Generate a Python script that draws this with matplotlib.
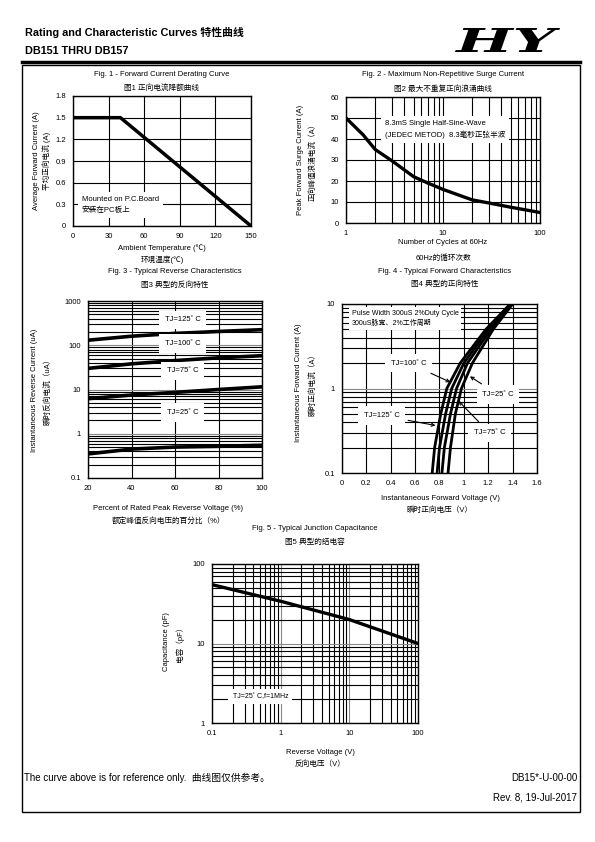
import numpy as np
import matplotlib
matplotlib.use('Agg')
import matplotlib.pyplot as plt
from matplotlib.patches import Rectangle, PathPatch
from matplotlib.lines import Line2D
from matplotlib.ticker import NullFormatter
from matplotlib.textpath import TextPath
from matplotlib.font_manager import FontProperties
from matplotlib.transforms import Affine2D

plt.rcParams['font.family'] = ['Liberation Sans', 'Noto Sans CJK SC', 'DejaVu Sans']

# Fig. 1 - derating
temp = [0, 40, 150]
i_avg = [1.5, 1.5, 0.0]

# Fig. 2 - surge current
cycles = [1, 1.5, 2, 3, 5, 7, 10, 20, 30, 50, 70, 100]
i_surge = [50, 42, 35, 29.5, 22, 19, 16, 11, 9.5, 7.5, 6.3, 5]

# Fig. 3 - reverse characteristics
pct = [20, 40, 60, 80, 100]
ir_125 = [130, 160, 185, 205, 225]
ir_100 = [30, 38, 45, 52, 58]
ir_75 = [6.2, 7.5, 8.6, 10, 11.5]
ir_25 = [0.35, 0.45, 0.5, 0.52, 0.55]

# Fig. 4 - forward characteristics
i_f = [0.1, 0.2, 0.5, 1, 2, 5, 10]
vf_125 = [0.74, 0.76, 0.81, 0.86, 0.97, 1.18, 1.38]
vf_100 = [0.78, 0.80, 0.85, 0.90, 1.00, 1.20, 1.39]
vf_75 = [0.82, 0.84, 0.89, 0.94, 1.03, 1.22, 1.39]
vf_25 = [0.87, 0.89, 0.93, 0.98, 1.07, 1.24, 1.40]

# Fig. 5 - junction capacitance
vr = [0.1, 1, 10, 100]
cap = [55, 34, 20, 10]

W, H = 595, 842
fig = plt.figure(figsize=(W / 100, H / 100), dpi=100)
FS = 5.5


def ax_px(x0, y0, x1, y1):
    return fig.add_axes([x0 / W, 1 - y1 / H, (x1 - x0) / W, (y1 - y0) / H])


def txt(x, y, s, **kw):
    kw.setdefault('fontsize', FS)
    kw.setdefault('va', 'center')
    fig.text(x / W, 1 - y / H, s, **kw)


def style(ax):
    ax.tick_params(which='both', length=0, labelsize=FS, pad=5)
    for sp in ax.spines.values():
        sp.set_linewidth(1.0)


# header
txt(25, 32, 'Rating and Characteristic Curves 特性曲线', fontsize=7.8, fontweight='bold')
txt(25, 51, 'DB151 THRU DB157', fontsize=7.8, fontweight='bold')

# logo, stretched into its box (455..560 x 28..52 px)
logo = TextPath((0, 0), 'HY', size=10,
                prop=FontProperties(family='DejaVu Serif', weight='heavy', style='italic'))
ext = logo.get_extents()
lx0, lx1, ly0, ly1 = 455, 560, 28, 52
tr = (Affine2D().translate(-ext.x0, -ext.y0)
      .scale((lx1 - lx0) / W / ext.width, (ly1 - ly0) / H / ext.height)
      .translate(lx0 / W, 1 - ly1 / H))
fig.add_artist(PathPatch(tr.transform_path(logo), facecolor='black', edgecolor='none',
                         transform=fig.transFigure))

fig.add_artist(Line2D([22 / W, 580 / W], [1 - 62 / H, 1 - 62 / H], color='black', lw=2.5))
fig.add_artist(Rectangle((22 / W, 1 - 812 / H), 558 / W, 747 / H, fill=False,
                         edgecolor='black', lw=1.0))

# ---- Fig 1
ax1 = ax_px(73, 96, 251, 226)
style(ax1)
ax1.plot(temp, i_avg, color='black', lw=2.5, solid_capstyle='butt')
ax1.set_xlim(0, 150)
ax1.set_ylim(0, 1.8)
ax1.set_xticks([0, 30, 60, 90, 120, 150])
ax1.set_yticks([0, 0.3, 0.6, 0.9, 1.2, 1.5, 1.8])
ax1.set_yticklabels(['0', '0.3', '0.6', '0.9', '1.2', '1.5', '1.8'])
ax1.grid(True, color='black', lw=0.8)
ax1.text(0.05, 0.16, 'Mounted on P.C.Board\n安装在PC板上', transform=ax1.transAxes,
         fontsize=FS, va='center', linespacing=1.5, bbox=dict(facecolor='white', edgecolor='none', pad=3))
txt(162, 75, 'Fig. 1 - Forward Current Derating Curve', ha='center')
txt(162, 88, '图1 正向电流降额曲线', ha='center')
txt(162, 248, 'Ambient Temperature (℃)', ha='center')
txt(162, 260, '环境温度(℃)', ha='center')
txt(36, 161, 'Average Forward Current (A)', ha='center', rotation=90)
txt(47, 161, '平均正向电流 (A)', ha='center', rotation=90)

# ---- Fig 2
ax2 = ax_px(346, 97, 540, 223)
style(ax2)
ax2.set_xscale('log')
ax2.plot(cycles, i_surge, color='black', lw=2.4)
ax2.set_xlim(1, 100)
ax2.set_ylim(0, 60)
ax2.set_xticks([1, 10, 100])
ax2.set_xticklabels(['1', '10', '100'])
ax2.xaxis.set_minor_formatter(NullFormatter())
ax2.set_yticks(range(0, 61, 10))
ax2.grid(True, which='both', color='black', lw=0.8)
ax2.text(0.2, 0.745, '8.3mS Single Half-Sine-Wave\n(JEDEC METOD)  8.3毫秒正弦半波',
         transform=ax2.transAxes, fontsize=FS, va='center', linespacing=1.5,
         bbox=dict(facecolor='white', edgecolor='none', pad=3))
txt(443, 75, 'Fig. 2 - Maximum Non-Repetitive Surge Current', ha='center')
txt(443, 89, '图2 最大不重复正向浪涌曲线', ha='center')
txt(443, 243, 'Number of Cycles at 60Hz', ha='center')
txt(443, 258, '60Hz的循环次数', ha='center')
txt(300, 160, 'Peak Forward Surge Current (A)', ha='center', rotation=90)
txt(313, 160, '正向峰值浪涌电流（A）', ha='center', rotation=90)

# ---- Fig 3
ax3 = ax_px(88, 301, 262, 478)
style(ax3)
ax3.set_yscale('log')
for ys in (ir_125, ir_100, ir_75, ir_25):
    ax3.plot(pct, ys, color='black', lw=2.6)
ax3.set_xlim(20, 100)
ax3.set_ylim(0.1, 1000)
ax3.set_xticks([20, 40, 60, 80, 100])
ax3.set_yticks([0.1, 1, 10, 100, 1000])
ax3.set_yticklabels(['0.1', '1', '10', '100', '1000'])
ax3.yaxis.set_minor_formatter(NullFormatter())
ax3.grid(True, axis='x', color='black', lw=0.8)
ax3.grid(True, axis='y', which='minor', color='black', lw=0.8)
ax3.grid(True, axis='y', which='major', color='#888888', lw=0.8)
for yf, lab in [(0.895, 'TJ=125˚ C'), (0.76, 'TJ=100˚ C'), (0.605, 'TJ=75˚ C'), (0.37, 'TJ=25˚ C')]:
    ax3.text(0.545, yf, lab, transform=ax3.transAxes, fontsize=FS, ha='center', va='center',
             bbox=dict(facecolor='white', edgecolor='none', pad=4))
txt(175, 271, 'Fig. 3 - Typical Reverse Characteristics', ha='center')
txt(175, 285, '图3 典型的反向特性', ha='center')
txt(168, 509, 'Percent of Rated Peak Reverse Voltage (%)', ha='center')
txt(168, 521, '额定峰值反向电压的百分比（%）', ha='center')
txt(35, 390, 'Instantaneous Reverse Current (uA)', ha='center', rotation=90)
txt(47, 390, '瞬时反向电流（uA）', ha='center', rotation=90)

# ---- Fig 4
ax4 = ax_px(342, 304, 537, 473)
style(ax4)
ax4.set_yscale('log')
for vs in (vf_125, vf_100, vf_75, vf_25):
    ax4.plot(vs, i_f, color='black', lw=2.0)
ax4.set_xlim(0, 1.6)
ax4.set_ylim(0.1, 10)
ax4.set_xticks([0, 0.2, 0.4, 0.6, 0.8, 1.0, 1.2, 1.4, 1.6])
ax4.set_xticklabels(['0', '0.2', '0.4', '0.6', '0.8', '1', '1.2', '1.4', '1.6'])
ax4.set_yticks([0.1, 1, 10])
ax4.set_yticklabels(['0.1', '1', '10'])
ax4.yaxis.set_minor_formatter(NullFormatter())
ax4.grid(True, axis='x', color='black', lw=0.8)
ax4.grid(True, axis='y', which='minor', color='black', lw=0.8)
ax4.grid(True, axis='y', which='major', color='#888888', lw=0.8)
ax4.text(0.05, 0.915, 'Pulse Width 300uS 2%Duty Cycle\n300uS脉宽、2%工作周期', transform=ax4.transAxes,
         fontsize=5, va='center', linespacing=1.5, bbox=dict(facecolor='white', edgecolor='none', pad=2))
arrow = dict(arrowstyle='->', color='black', lw=0.8)
lbl = dict(facecolor='white', edgecolor='none', pad=4)
ax4.annotate('TJ=100˚ C', xy=(0.91, 1.15), xytext=(0.4, 2.0), fontsize=FS, va='center',
             arrowprops=arrow, bbox=lbl)
ax4.annotate('TJ=25˚ C', xy=(1.03, 1.45), xytext=(1.15, 0.85), fontsize=FS, va='center',
             arrowprops=arrow, bbox=lbl)
ax4.annotate('TJ=125˚ C', xy=(0.79, 0.36), xytext=(0.18, 0.48), fontsize=FS, va='center',
             arrowprops=arrow, bbox=lbl)
ax4.annotate('TJ=75˚ C', xy=(0.94, 0.75), xytext=(1.08, 0.3), fontsize=FS, va='center',
             arrowprops=arrow, bbox=lbl)
txt(445, 271, 'Fig. 4 - Typical Forward Characteristics', ha='center')
txt(445, 284, '图4 典型的正向特性', ha='center')
txt(440, 498, 'Instantaneous Forward Voltage (V)', ha='center')
txt(440, 510, '瞬时正向电压（V）', ha='center')
txt(299, 383, 'Instantaneous Forward Current (A)', ha='center', rotation=90)
txt(312, 383, '瞬时正向电流（A）', ha='center', rotation=90)

# ---- Fig 5
ax5 = ax_px(212, 564, 418, 723)
style(ax5)
ax5.set_xscale('log')
ax5.set_yscale('log')
ax5.plot(vr, cap, color='black', lw=2.4)
ax5.set_xlim(0.1, 100)
ax5.set_ylim(1, 100)
ax5.set_xticks([0.1, 1, 10, 100])
ax5.set_xticklabels(['0.1', '1', '10', '100'])
ax5.set_yticks([1, 10, 100])
ax5.set_yticklabels(['1', '10', '100'])
ax5.xaxis.set_minor_formatter(NullFormatter())
ax5.yaxis.set_minor_formatter(NullFormatter())
ax5.grid(True, which='minor', color='black', lw=0.8)
ax5.grid(True, which='major', color='#888888', lw=0.8)
ax5.text(0.1, 0.165, 'TJ=25˚ C,f=1MHz', transform=ax5.transAxes, fontsize=5,
         va='center', bbox=dict(facecolor='white', edgecolor='none', pad=3))
txt(315, 528, 'Fig. 5 - Typical Junction Capacitance', ha='center')
txt(315, 542, '图5 典型的结电容', ha='center')
txt(320, 753, 'Reverse Voltage (V)', ha='center')
txt(320, 764, '反向电压（V）', ha='center')
txt(167, 642, 'Capacitance (pF)', ha='center', rotation=90)
txt(180, 642, '电容（pF）', ha='center', rotation=90)

# footer
txt(24, 778, 'The curve above is for reference only.  曲线图仅供参考。', fontsize=7)
txt(577, 778, 'DB15*-U-00-00', fontsize=7, ha='right')
txt(577, 797, 'Rev. 8, 19-Jul-2017', fontsize=7, ha='right')

fig.savefig('out.png', dpi=100)
